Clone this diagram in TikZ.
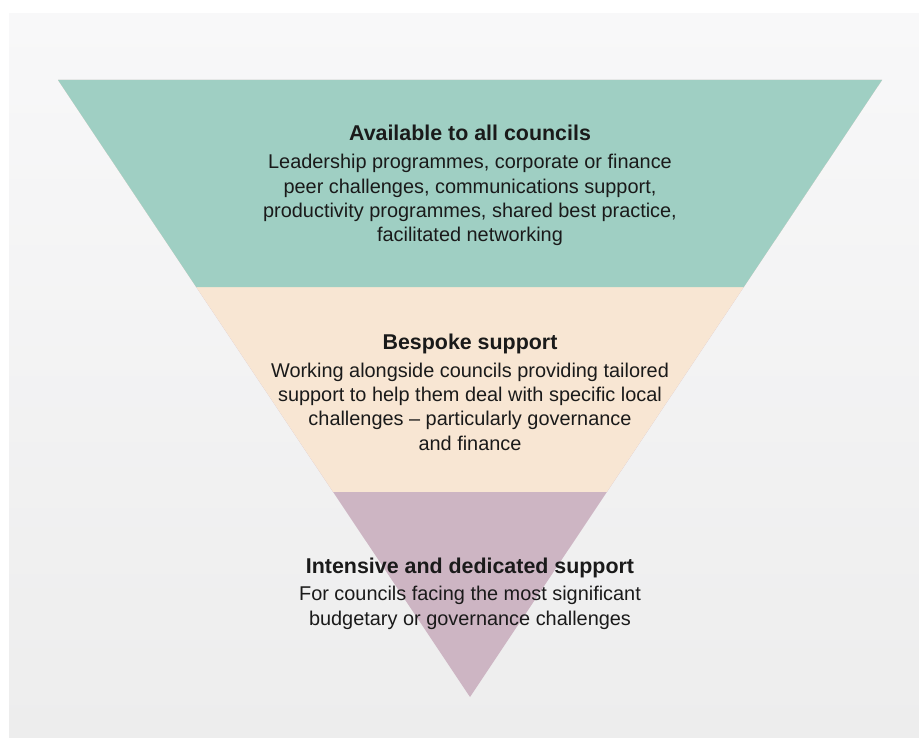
\documentclass[tikz,border=0pt]{standalone}
\usepackage{fontspec}
\setmainfont{Liberation Sans}
\usepackage{tikz}
\usetikzlibrary{calc,positioning}
\definecolor{paneltop}{HTML}{F8F8F9}
\definecolor{panelbottom}{HTML}{EDEDED}
\definecolor{tiergreen}{HTML}{9FCFC3}
\definecolor{tierbeige}{HTML}{F8E6D3}
\definecolor{tierpurple}{HTML}{CDB5C3}
\definecolor{textdark}{HTML}{1A1A1A}
\tikzset{
  tiertitle/.style={font=\fontsize{21.4}{25}\selectfont\bfseries, text=textdark, anchor=base, inner sep=0pt},
  tierbody/.style={font=\fontsize{19.9}{24.3}\selectfont, text=textdark, align=center, anchor=base, inner sep=0pt}
}

\begin{document}
\begin{tikzpicture}[x=1pt,y=-1pt]
\useasboundingbox (0,0) rectangle (919,738);
\shade[top color=paneltop, bottom color=panelbottom] (9,14) rectangle (919,738);
\coordinate (topleft) at (58,80);
\coordinate (topright) at (882,80);
\coordinate (apex) at (470,697);
\coordinate (l1) at ($(topleft)!0.3355!(apex)$);
\coordinate (r1) at ($(topright)!0.3355!(apex)$);
\coordinate (l2) at ($(topleft)!0.6677!(apex)$);
\coordinate (r2) at ($(topright)!0.6677!(apex)$);
\fill[tierpurple] (topleft) -- (topright) -- (apex) -- cycle;
\fill[tierbeige] (topleft) -- (topright) -- (r2) -- (l2) -- cycle;
\fill[tiergreen] (topleft) -- (topright) -- (r1) -- (l1) -- cycle;
\node[tiertitle] (alltitle) at (470,140.7) {Available to all councils};
\node[tierbody] (allbody) at ([yshift=-101pt]alltitle.base) {Leadership programmes, corporate or finance\\
peer challenges, communications support,\\
productivity programmes, shared best practice,\\
facilitated networking};
\node[tiertitle] (bespoketitle) at (470,349.3) {Bespoke support};
\node[tierbody] (bespokebody) at ([yshift=-100.7pt]bespoketitle.base) {Working alongside councils providing tailored\\
support to help them deal with specific local\\
challenges – particularly governance\\
and finance};
\node[tiertitle] (intensivetitle) at (470,573.3) {Intensive and dedicated support};
\node[tierbody] (intensivebody) at ([yshift=-51.7pt]intensivetitle.base) {For councils facing the most significant\\
budgetary or governance challenges};
\end{tikzpicture}
\end{document}
